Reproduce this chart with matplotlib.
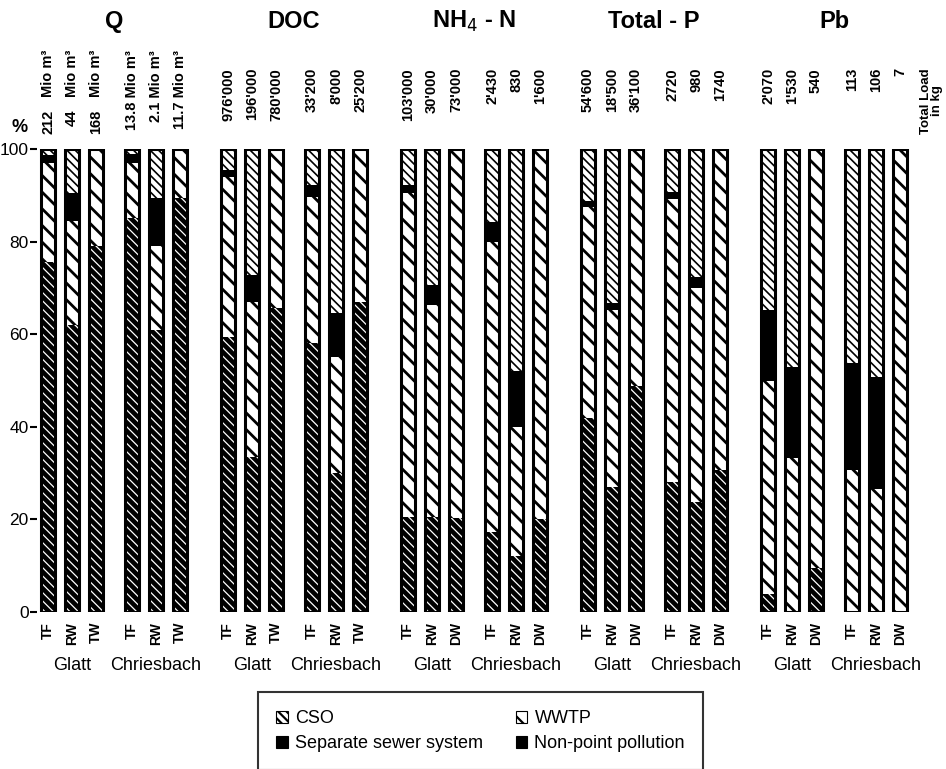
import numpy as np
import matplotlib.pyplot as plt
import matplotlib.patches as mpatches
from matplotlib.transforms import blended_transform_factory

plt.rcParams['font.family'] = ['Liberation Sans', 'DejaVu Sans']
plt.rcParams['hatch.linewidth'] = 1.6

# Parameters and bar labels
params = ['Q', 'DOC', 'NH$_4$ - N', 'Total - P', 'Pb']
sites = ['Glatt', 'Chriesbach']
bar_names = [
    ['TF', 'RW', 'TW', 'TF', 'RW', 'TW'],
    ['TF', 'RW', 'TW', 'TF', 'RW', 'TW'],
    ['TF', 'RW', 'DW', 'TF', 'RW', 'DW'],
    ['TF', 'RW', 'DW', 'TF', 'RW', 'DW'],
    ['TF', 'RW', 'DW', 'TF', 'RW', 'DW'],
]

# Total loads written above the bars
loads = [
    ['212', '44', '168', '13.8 Mio m³', '2.1 Mio m³', '11.7 Mio m³'],
    ["976'000", "196'000", "780'000", "33'200", "8'000", "25'200"],
    ["103'000", "30'000", "73'000", "2'430", "830", "1'600"],
    ["54'600", "18'500", "36'100", "2720", "980", "1740"],
    ["2'070", "1'530", "540", "113", "106", "7"],
]

# Shares in % per bar (Q, DOC, NH4-N, Total-P, Pb; 6 bars each), bottom -> top
nonpoint = [75.5, 62.0, 79.0, 85.0, 61.0, 89.5,
            59.5, 33.5, 65.7, 58.0, 30.0, 67.0,
            20.5, 20.5, 20.2, 17.3, 12.0, 20.0,
            41.8, 26.9, 48.8, 28.1, 23.8, 30.7,
            3.8, 0.0, 9.4, 0.0, 0.0, 0.0]
wwtp = [21.5, 22.5, 21.0, 12.0, 18.0, 10.5,
        34.5, 33.5, 34.3, 31.7, 25.0, 33.0,
        70.0, 45.8, 79.8, 62.7, 28.0, 80.0,
        45.6, 38.3, 51.2, 61.2, 46.1, 69.3,
        46.2, 33.2, 90.6, 30.7, 26.5, 100.0]
separate = [1.7, 6.0, 0.0, 2.0, 10.5, 0.0,
            1.5, 5.8, 0.0, 2.5, 9.6, 0.0,
            1.8, 4.3, 0.0, 4.3, 12.0, 0.0,
            1.4, 1.5, 0.0, 1.5, 2.5, 0.0,
            15.2, 19.7, 0.0, 23.0, 24.2, 0.0]
cso = [1.3, 9.5, 0.0, 1.0, 10.5, 0.0,
       4.5, 27.2, 0.0, 7.8, 35.4, 0.0,
       7.7, 29.4, 0.0, 15.7, 48.0, 0.0,
       11.2, 33.3, 0.0, 9.2, 27.6, 0.0,
       34.8, 47.1, 0.0, 46.3, 49.3, 0.0]

# bar positions: two triplets per parameter
within = np.array([0, 1, 2, 3.5, 4.5, 5.5])
x = np.concatenate([g * 7.5 + within for g in range(len(params))])
w = 0.58

# name, values, face colour, hatch colour, hatch, hatch linewidth
styles = [
    ('Non-point pollution', nonpoint, 'black', 'white', '\\\\\\\\', 0.9),
    ('WWTP', wwtp, 'white', 'black', '\\\\', 2.0),
    ('Separate sewer system', separate, 'black', 'black', '', 1.0),
    ('CSO', cso, 'white', 'black', '\\\\\\\\', 1.2),
]

fig = plt.figure(figsize=(9.46, 7.69), dpi=100)
ax = fig.add_axes([37 / 946, 157 / 769, 893 / 946, 463 / 769])

bottom = np.zeros(len(x))
handles = {}
for name, vals, fc, hc, hatch, hlw in styles:
    vals = np.array(vals)
    with plt.rc_context({'hatch.linewidth': hlw}):
        ax.bar(x, vals, w, bottom=bottom, color=fc, edgecolor=hc, hatch=hatch, linewidth=0)
        handles[name] = mpatches.Patch(facecolor=fc, edgecolor=hc if fc == 'white' else 'black',
                                       hatch=hatch, linewidth=0.8)
    bottom += vals

# outlines
ax.bar(x, bottom, w, fill=False, edgecolor='black', linewidth=2.2)

ax.set_xlim(-0.46, 36.75)
ax.set_ylim(0, 100)
for s in ax.spines.values():
    s.set_visible(False)
ax.set_yticks([0, 20, 40, 60, 80, 100])
ax.tick_params(axis='y', length=5, width=1.5, labelsize=12.5, pad=1)
ax.set_xticks(x, [n for grp in bar_names for n in grp], rotation=90,
              fontweight='bold', fontsize=10)
ax.tick_params(axis='x', length=0, pad=7)

tr = blended_transform_factory(ax.transData, ax.transAxes)
for g, p in enumerate(params):
    x0 = g * 7.5
    ax.text(x0 + 2.75, 1.275, p, transform=tr, ha='center', va='center',
            fontsize=17, fontweight='bold')
    ax.text(x0 + 1, -0.115, sites[0], transform=tr, ha='center', va='center', fontsize=13)
    ax.text(x0 + 4.5, -0.115, sites[1], transform=tr, ha='center', va='center', fontsize=13)
    for i, lab in enumerate(loads[g]):
        if g == 0:
            ytop = 1.214 if i >= 3 else 1.085
        else:
            ytop = 1.175
        ax.text(x0 + within[i], ytop, lab, transform=tr, rotation=90, ha='center',
                va='top', fontsize=10.5, fontweight='bold')
        if g == 0 and i < 3:
            ax.text(x0 + within[i], 1.214, 'Mio m³', transform=tr, rotation=90,
                    ha='center', va='top', fontsize=10.5, fontweight='bold')

ax.text(36.8, 1.175, 'Total Load\nin kg', transform=tr, rotation=90, ha='center',
        va='top', fontsize=9.5, fontweight='bold', linespacing=0.9)
fig.text(20 / 946, 1 - 128 / 769, '%', ha='center', va='center', fontsize=13,
         fontweight='bold')

order = ['CSO', 'Separate sewer system', 'WWTP', 'Non-point pollution']
leg = fig.legend([handles[k] for k in order], order, ncol=2, loc='upper left',
                 bbox_to_anchor=(258 / 946, 1 - 692 / 769), fontsize=13,
                 frameon=True, fancybox=False, edgecolor='black', borderaxespad=0,
                 handlelength=0.65, handleheight=0.65, handletextpad=0.4,
                 columnspacing=1.8, borderpad=1.0, labelspacing=0.45)
leg.get_frame().set_linewidth(1.5)

plt.savefig('out.png', dpi=100)
